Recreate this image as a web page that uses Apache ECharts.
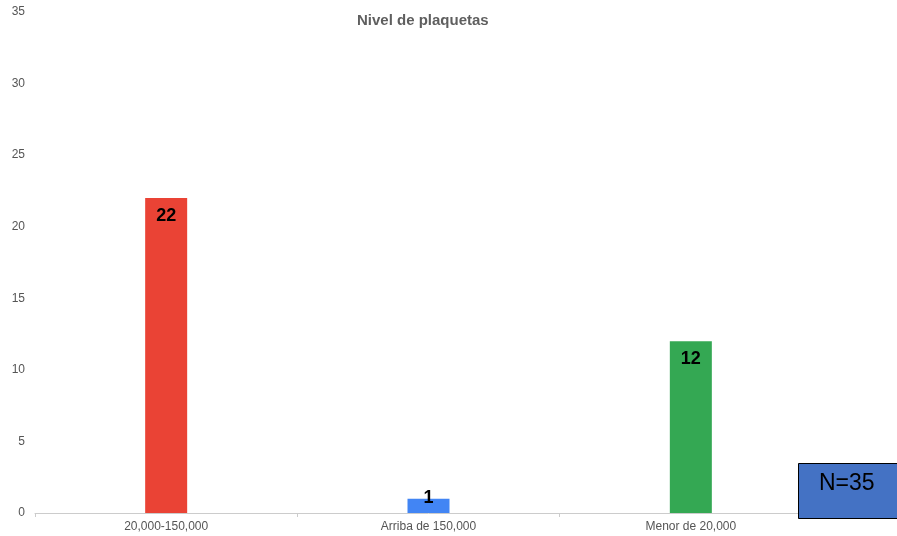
<!DOCTYPE html>
<html>
<head>
<meta charset="utf-8">
<script src="https://cdn.jsdelivr.net/npm/echarts@6/dist/echarts.min.js"></script>
<style>
  html, body { margin: 0; padding: 0; background: #fff; }
  #chart { width: 897px; height: 536px; }
</style>
</head>
<body>
<div id="chart"></div>
<script>
// Platelet level groups and patient counts
const categories = ['20,000-150,000', 'Arriba de 150,000', 'Menor de 20,000'];
const counts = [22, 1, 12];
const barColors = ['#EA4335', '#4285F4', '#34A853'];
const yTicks = { min: 0, max: 35, interval: 5 };
const totalLabel = 'N=35';

const chart = echarts.init(document.getElementById('chart'));

const seriesData = counts.map((v, i) => {
  const item = { value: v, itemStyle: { color: barColors[i] } };
  if (v < 3) {
    // short bars: label sits over the bar's top edge
    item.label = { position: 'top', distance: -8 };
  }
  return item;
});

chart.setOption({
  animation: false,
  backgroundColor: '#ffffff',
  title: {
    text: 'Nivel de plaquetas',
    left: 352,
    top: 8,
    textStyle: { fontFamily: 'Arial, Liberation Sans', fontSize: 15, fontWeight: 'bold', color: '#5f5f5f' }
  },
  grid: { left: 35, right: 75, top: 12, bottom: 23 },
  xAxis: {
    type: 'category',
    data: categories,
    axisLine: { lineStyle: { color: '#cccccc' } },
    axisTick: { show: true, length: 4, lineStyle: { color: '#cccccc' } },
    axisLabel: { color: '#555', fontSize: 12, fontFamily: 'Arial, Liberation Sans', margin: 8 }
  },
  yAxis: {
    type: 'value',
    min: yTicks.min,
    max: yTicks.max,
    interval: yTicks.interval,
    splitLine: { show: false },
    axisLine: { show: false },
    axisTick: { show: false },
    axisLabel: { color: '#555', fontSize: 12, fontFamily: 'Arial, Liberation Sans', margin: 10 }
  },
  series: [{
    type: 'bar',
    data: seriesData,
    barWidth: 42,
    label: {
      show: true,
      position: 'insideTop',
      distance: 9,
      color: '#000',
      fontSize: 18,
      fontWeight: 'bold',
      fontFamily: 'Arial, Liberation Sans'
    }
  }],
  graphic: [
    {
      type: 'rect',
      left: 798,
      top: 463,
      z: 100,
      shape: { width: 100, height: 55 },
      style: { fill: '#4472C4', stroke: '#000', lineWidth: 1 }
    },
    {
      type: 'text',
      left: 819,
      top: 472,
      z: 101,
      style: { text: totalLabel, fill: '#000', font: '23px Arial, Liberation Sans' }
    }
  ]
});
</script>
</body>
</html>
